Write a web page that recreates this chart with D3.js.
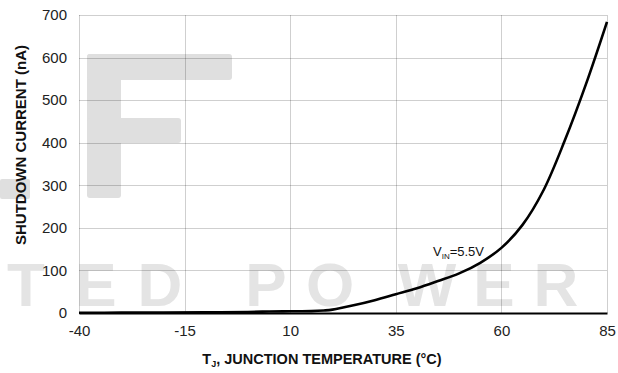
<!DOCTYPE html>
<html>
<head>
<meta charset="utf-8">
<script src="https://cdn.jsdelivr.net/npm/d3@7"></script>
<style>
  html, body { margin: 0; padding: 0; background: #fff; }
  svg { display: block; font-family: "Liberation Sans", Arial, sans-serif; }
</style>
</head>
<body>
<svg id="chart" width="618" height="373"></svg>
<script>
// Shutdown current vs junction temperature, VIN = 5.5 V
const temperature = [-40, -30, -20, -10, 0, 5, 10, 15, 18, 20, 25, 30, 35, 40, 45, 50, 55, 60, 65, 70, 75, 80, 85];
const currentNA   = [0.5, 0.8, 1, 1.5, 2.5, 3.5, 4, 4.5, 6, 8, 18, 30, 44, 58, 75, 93, 118, 153, 207, 289, 405, 537, 684];
const xTicks = [-40, -15, 10, 35, 60, 85];
const yTicks = [0, 100, 200, 300, 400, 500, 600, 700];

const svg = d3.select("#chart");
const m = { left: 79, right: 11, top: 15, bottom: 60 };
const W = +svg.attr("width"), H = +svg.attr("height");
const x = d3.scaleLinear().domain([-40, 85]).range([m.left, W - m.right]);
const y = d3.scaleLinear().domain([0, 700]).range([H - m.bottom, m.top]);

// background logo mark
const wm = svg.append("g").attr("fill", "#dfdfdf");
wm.append("rect").attr("x", 87).attr("y", 54).attr("width", 34).attr("height", 144).attr("rx", 3);
wm.append("rect").attr("x", 87).attr("y", 54).attr("width", 145).attr("height", 26).attr("rx", 3);
wm.append("rect").attr("x", 87).attr("y", 118).attr("width", 94).attr("height", 25).attr("rx", 3);
wm.append("rect").attr("x", 0).attr("y", 179).attr("width", 30).attr("height", 20).attr("rx", 2);
const wmLetters = [["T", 26], ["E", 96], ["D", 160], ["P", 266], ["O", 330], ["W", 427], ["E", 494], ["R", 556]];
wm.selectAll("text.wm").data(wmLetters).join("text")
  .attr("class", "wm")
  .attr("x", d => d[1]).attr("y", 306)
  .attr("text-anchor", "middle")
  .attr("font-size", 62)
  .attr("font-weight", "bold")
  .attr("fill", "#e4e4e4")
  .text(d => d[0]);

// grid
const grid = svg.append("g").attr("stroke", "rgba(0,0,0,0.19)").attr("stroke-width", 1);
grid.selectAll("line.h").data(yTicks.filter(v => v > 0)).join("line")
  .attr("x1", x(-40)).attr("x2", x(85))
  .attr("y1", d => Math.round(y(d)) + 0.5).attr("y2", d => Math.round(y(d)) + 0.5);
grid.selectAll("line.v").data(xTicks).join("line")
  .attr("y1", y(0)).attr("y2", y(700))
  .attr("x1", d => Math.round(x(d)) + 0.5).attr("x2", d => Math.round(x(d)) + 0.5);

// axes
const xAxis = svg.append("g").attr("transform", `translate(0,${y(0)})`)
  .call(d3.axisBottom(x).tickValues(xTicks).tickFormat(d => String(d)).tickSize(0).tickPadding(12));
xAxis.select(".domain").attr("stroke", "#000").attr("stroke-width", 2.2);
xAxis.selectAll("text").attr("font-size", 15).attr("fill", "#222").attr("font-family", "Liberation Sans, Arial, sans-serif");

const yAxis = svg.append("g").attr("transform", `translate(${x(-40)},0)`)
  .call(d3.axisLeft(y).tickValues(yTicks).tickFormat(d => String(d)).tickSize(0).tickPadding(12));
yAxis.select(".domain").remove();
yAxis.selectAll("text").attr("font-size", 15).attr("fill", "#222").attr("font-family", "Liberation Sans, Arial, sans-serif");

// curve
const line = d3.line().x((d, i) => x(temperature[i])).y(d => y(d)).curve(d3.curveCatmullRom.alpha(0.5));
svg.append("path").datum(currentNA)
  .attr("d", line)
  .attr("fill", "none").attr("stroke", "#000").attr("stroke-width", 2.6)
  .attr("stroke-linejoin", "round");

// annotation: V with subscript IN, then the value
const annV = svg.append("text").attr("x", 433).attr("y", 256).attr("font-size", 13).attr("fill", "#111").text("V");
const vW = annV.node().getComputedTextLength();
const annSub = svg.append("text").attr("x", 433 + vW).attr("y", 259).attr("font-size", 8).attr("fill", "#111").text("IN");
const subW = annSub.node().getComputedTextLength();
svg.append("text").attr("x", 433 + vW + subW).attr("y", 256).attr("font-size", 13).attr("fill", "#111").text("=5.5V");

// axis titles
const xt = svg.append("text").attr("x", 322).attr("y", 364).attr("text-anchor", "middle")
  .attr("font-size", 14.5).attr("font-weight", "bold").attr("fill", "#111");
xt.append("tspan").text("T");
xt.append("tspan").attr("font-size", 9).attr("dy", 3).text("J");
xt.append("tspan").attr("dy", -3).text(", JUNCTION TEMPERATURE (°C)");

svg.append("text")
  .attr("transform", "translate(26,145) rotate(-90)")
  .attr("text-anchor", "middle")
  .attr("font-size", 15).attr("font-weight", "bold").attr("fill", "#111")
  .text("SHUTDOWN CURRENT (nA)");
</script>
</body>
</html>
